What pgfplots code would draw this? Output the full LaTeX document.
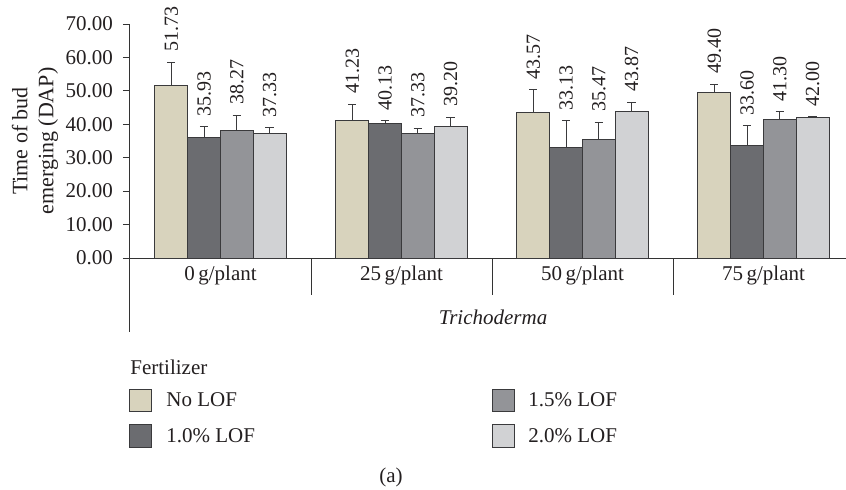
\documentclass[border=0pt]{standalone}
\usepackage{fontspec}
\setmainfont{Liberation Serif}
\usepackage{pgfplots}
\usepackage{pgfplotstable}
\pgfplotsset{compat=1.18}

\definecolor{noLOF}{HTML}{D8D3BD}
\definecolor{lofA}{HTML}{6B6C70}
\definecolor{lofB}{HTML}{939498}
\definecolor{lofC}{HTML}{D1D2D4}
\definecolor{edge}{HTML}{3A3A3C}
\definecolor{ink}{HTML}{231F20}

% mean and upper error of each treatment, x = Trichoderma dose
\pgfplotstableread{
x y err
0 51.73 6.8
1 41.23 4.8
2 43.57 6.7
3 49.40 2.6
}\noLOFtab
\pgfplotstableread{
x y err
0 35.93 3.4
1 40.13 0.9
2 33.13 8.0
3 33.60 5.9
}\lofAtab
\pgfplotstableread{
x y err
0 38.27 4.4
1 37.33 1.5
2 35.47 5.2
3 41.30 2.5
}\lofBtab
\pgfplotstableread{
x y err
0 37.33 1.7
1 39.20 2.9
2 43.87 2.7
3 42.00 0.3
}\lofCtab

\pgfplotsset{
  /pgf/number format/assume math mode=true,
  bars/.style 2 args={fill=#1, draw=edge, line width=0.5pt, bar shift=#2,
    error bars/.cd, y dir=plus, y explicit,
    error bar style={draw=edge, line width=0.5pt},
    error mark options={rotate=90, mark size=2.1pt, line width=0.5pt, draw=edge}},
  vals/.style={draw=none, fill=none, bar shift=#1, forget plot,
    point meta=\thisrow{y},
    nodes near coords={\pgfmathprintnumber[fixed,precision=2,zerofill]{\pgfplotspointmeta}},
    nodes near coords style={font=\fontsize{10}{12}\selectfont,
      rotate=90, anchor=west, inner xsep=5pt, inner ysep=1pt, text=ink}},
}

\begin{document}
\begin{tikzpicture}[font=\fontsize{10.5}{12}\selectfont, text=ink]
\begin{axis}[
  scale only axis, width=358pt, height=117pt,
  xmin=-0.5, xmax=3.456, ymin=0, ymax=70,
  axis x line=bottom, axis y line=left,
  axis line style={-, draw=black!80, line width=0.5pt},
  ybar, bar width=16.4pt,
  xtick=\empty,
  ytick={0,10,...,70},
  tick align=outside, major tick length=3.5pt,
  tick style={draw=black!80, line width=0.5pt},
  yticklabel style={font=\fontsize{10.5}{12}\selectfont, xshift=-1.5pt,
    /pgf/number format/.cd, fixed, precision=2, zerofill},
  clip=false,
]
\addplot[bars={noLOF}{-24.6pt}] table[x=x, y=y, y error=err] {\noLOFtab};
\addplot[bars={lofA}{-8.2pt}] table[x=x, y=y, y error=err] {\lofAtab};
\addplot[bars={lofB}{8.2pt}] table[x=x, y=y, y error=err] {\lofBtab};
\addplot[bars={lofC}{24.6pt}] table[x=x, y=y, y error=err] {\lofCtab};
% value labels sit above the error bar caps
\addplot[vals=-24.6pt] table[x=x, y expr=\thisrow{y}+\thisrow{err}] {\noLOFtab};
\addplot[vals=-8.2pt] table[x=x, y expr=\thisrow{y}+\thisrow{err}] {\lofAtab};
\addplot[vals=8.2pt] table[x=x, y expr=\thisrow{y}+\thisrow{err}] {\lofBtab};
\addplot[vals=24.6pt] table[x=x, y expr=\thisrow{y}+\thisrow{err}] {\lofCtab};
\end{axis}

% group dividers and axis extension
\draw[black!80, line width=0.5pt] (0pt,0pt) -- (0pt,-37pt);
\foreach \d in {90.5,181,271.5}
  \draw[black!80, line width=0.5pt] (\d pt,0pt) -- (\d pt,-18.5pt);

% category labels
\node at (45.25pt,-8.5pt) {0\,g/plant};
\node at (135.75pt,-8.5pt) {25\,g/plant};
\node at (226.25pt,-8.5pt) {50\,g/plant};
\node at (316.75pt,-8.5pt) {75\,g/plant};
\node at (181.5pt,-29.5pt) {\textit{Trichoderma}};

% y label
\node[rotate=90, align=center, font=\fontsize{11}{11}\selectfont] at (-47.5pt,58.5pt)
  {Time of bud\\[2pt]emerging (DAP)};

% legend
\node[anchor=west, inner sep=0pt] at (0pt,-54.5pt) {Fertilizer};
\draw[edge, line width=0.5pt, fill=noLOF] (0pt,-65.5pt) rectangle (11pt,-76.5pt);
\node[anchor=west, inner sep=0pt] at (18pt,-71pt) {No LOF};
\draw[edge, line width=0.5pt, fill=lofA] (0pt,-83pt) rectangle (11pt,-94.5pt);
\node[anchor=west, inner sep=0pt] at (18pt,-88.75pt) {1.0\% LOF};
\draw[edge, line width=0.5pt, fill=lofB] (181pt,-65.5pt) rectangle (192pt,-76.5pt);
\node[anchor=west, inner sep=0pt] at (199pt,-71pt) {1.5\% LOF};
\draw[edge, line width=0.5pt, fill=lofC] (181pt,-83pt) rectangle (192pt,-94.5pt);
\node[anchor=west, inner sep=0pt] at (199pt,-88.75pt) {2.0\% LOF};

\node at (130.5pt,-109.5pt) {(a)};

\pgfresetboundingbox
\path[use as bounding box] (-65pt,-115.5pt) rectangle (358pt,129pt);
\end{tikzpicture}
\end{document}
